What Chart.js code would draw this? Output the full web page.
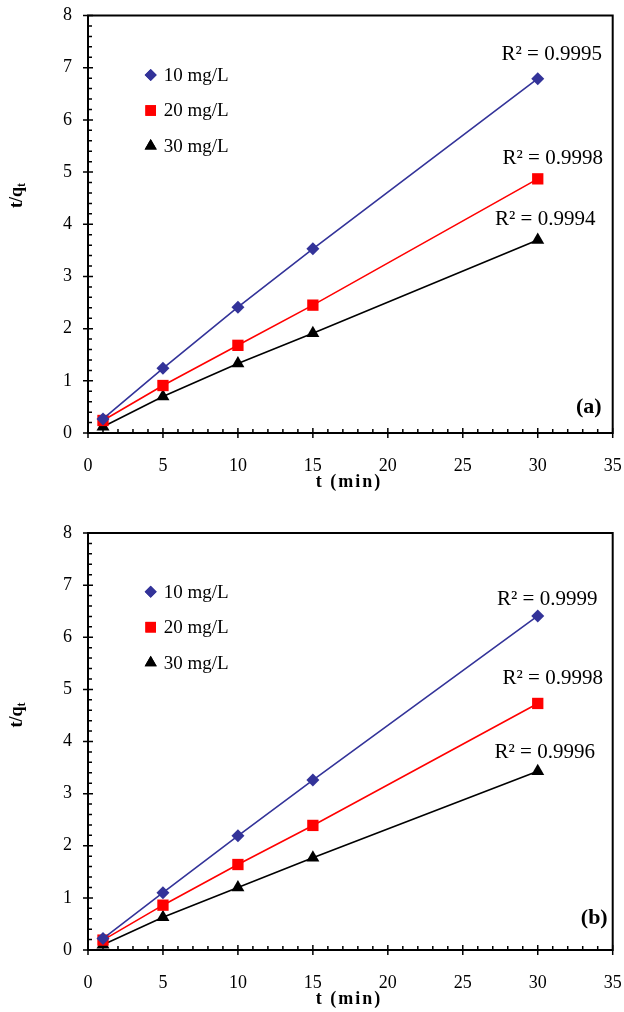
<!DOCTYPE html>
<html>
<head>
<meta charset="utf-8">
<script src="https://cdn.jsdelivr.net/npm/chart.js"></script>
<style>
  html, body { margin: 0; padding: 0; background: #fff; }
  .panel { position: absolute; left: 0; width: 624px; }
  #panelA { top: 0; height: 500px; }
  #panelB { top: 500px; height: 512px; }
</style>
</head>
<body>
<div class="panel" id="panelA"><canvas id="chartA"></canvas></div>
<div class="panel" id="panelB"><canvas id="chartB"></canvas></div>
<script>
// contact time (min)
const times = [1, 5, 10, 15, 30];
const seriesLabels = ["10 mg/L", "20 mg/L", "30 mg/L"];

// panel (a) t/qt
const a10 = [0.27, 1.24, 2.41, 3.53, 6.79];
const a20 = [0.24, 0.91, 1.68, 2.45, 4.87];
const a30 = [0.12, 0.70, 1.33, 1.91, 3.70];
const r2a = ["R² = 0.9995", "R² = 0.9998", "R² = 0.9994"];

// panel (b) t/qt
const b10 = [0.22, 1.10, 2.19, 3.26, 6.41];
const b20 = [0.19, 0.86, 1.64, 2.39, 4.73];
const b30 = [0.10, 0.63, 1.20, 1.77, 3.43];
const r2b = ["R² = 0.9999", "R² = 0.9998", "R² = 0.9996"];

const xTicks = [0, 5, 10, 15, 20, 25, 30, 35];
const yTicks = [0, 1, 2, 3, 4, 5, 6, 7, 8];

const SERIF = "'Liberation Serif', 'Times New Roman', serif";
const styles = [
    { color: "#333399", pointStyle: "rectRot", radius: 6.5 },
    { color: "#ff0000", pointStyle: "rect", radius: 8 },
    { color: "#000000", pointStyle: "triangle", radius: 7.5 },
];

function makeDatasets(values) {
    return values.map((vals, i) => ({
        label: seriesLabels[i],
        data: times.map((t, k) => ({ x: t, y: vals[k] })),
        showLine: true,
        borderColor: styles[i].color,
        backgroundColor: styles[i].color,
        borderWidth: 1.6,
        pointStyle: styles[i].pointStyle,
        pointRadius: styles[i].radius,
        pointBorderWidth: 0,
        pointHoverRadius: styles[i].radius,
        clip: false,
        tension: 0,
    }));
}

// frame, ticks, legend, titles and R² labels
const decorPlugin = {
    id: "decor",
    afterDraw(chart, args, opts) {
        const ctx = chart.ctx;
        const area = chart.chartArea;
        const xs = chart.scales.x;
        const ys = chart.scales.y;
        ctx.save();
        ctx.strokeStyle = "#000";
        ctx.lineWidth = 2;
        ctx.strokeRect(area.left, area.top, area.right - area.left, area.bottom - area.top);

        ctx.lineWidth = 1.5;
        ctx.beginPath();
        // x minor ticks (inward), major ticks (crossing)
        for (let v = 0; v <= 35; v++) {
            const px = xs.getPixelForValue(v);
            if (v % 5 === 0) {
                ctx.moveTo(px, area.bottom - 5);
                ctx.lineTo(px, area.bottom + 5);
            } else {
                ctx.moveTo(px, area.bottom);
                ctx.lineTo(px, area.bottom - 4);
            }
        }
        // y minor ticks every 0.2
        for (let k = 0; k <= 40; k++) {
            const py = ys.getPixelForValue(k * 0.2);
            if (k % 5 === 0) {
                ctx.moveTo(area.left - 5, py);
                ctx.lineTo(area.left + 5, py);
            } else {
                ctx.moveTo(area.left, py);
                ctx.lineTo(area.left + 4, py);
            }
        }
        ctx.stroke();

        // legend inside plot
        const drawPoint = Chart.helpers && Chart.helpers.drawPoint;
        chart.data.datasets.forEach((ds, i) => {
            const mx = area.left + 62.7;
            const my = area.top + opts.legendTop + i * 35.5;
            ctx.fillStyle = ds.backgroundColor;
            if (drawPoint) {
                drawPoint(ctx, { pointStyle: ds.pointStyle, radius: ds.pointRadius - 0.5, borderWidth: 0 }, mx, my);
                ctx.fill();
            }
            ctx.fillStyle = "#000";
            ctx.font = "19px " + SERIF;
            ctx.textAlign = "left";
            ctx.textBaseline = "middle";
            ctx.fillText(ds.label, mx + 13, my + 1);
        });

        // R² labels near the last point of each series
        ctx.font = "21px " + SERIF;
        ctx.textAlign = "center";
        ctx.textBaseline = "middle";
        ctx.fillStyle = "#000";
        chart.data.datasets.forEach((ds, i) => {
            const last = ds.data[ds.data.length - 1];
            const px = xs.getPixelForValue(last.x) + opts.r2Offsets[i][0];
            const py = ys.getPixelForValue(last.y) + opts.r2Offsets[i][1];
            ctx.fillText(opts.r2[i], px, py);
        });

        // panel label
        ctx.font = "bold 22px " + SERIF;
        ctx.textAlign = "right";
        ctx.fillText(opts.panel, area.right - opts.panelPos[0], area.bottom - opts.panelPos[1]);

        // x axis title
        ctx.font = "bold 18px " + SERIF;
        ctx.textAlign = "center";
        ctx.letterSpacing = "2px";
        ctx.fillText("t (min)", 349, area.bottom + 49);
        ctx.letterSpacing = "0px";

        // y axis title t/q_t
        ctx.translate(17, area.top + opts.yTitleOffset);
        ctx.rotate(-Math.PI / 2);
        ctx.font = "bold 18px " + SERIF;
        const main = "t/q";
        const wMain = ctx.measureText(main).width;
        ctx.font = "bold 12px " + SERIF;
        const wSub = ctx.measureText("t").width;
        const start = -(wMain + wSub) / 2;
        ctx.textAlign = "left";
        ctx.font = "bold 18px " + SERIF;
        ctx.fillText(main, start, 0);
        ctx.font = "bold 12px " + SERIF;
        ctx.fillText("t", start + wMain, 5);
        ctx.restore();
    },
};

function buildChart(canvasId, values, cfg) {
    return new Chart(document.getElementById(canvasId), {
        type: "scatter",
        data: { datasets: makeDatasets(values) },
        options: {
            responsive: true,
            maintainAspectRatio: false,
            animation: false,
            layout: { padding: { left: 0, right: 11.3, top: cfg.top, bottom: 0 } },
            scales: {
                x: {
                    type: "linear",
                    min: 0,
                    max: 35,
                    afterBuildTicks: (s) => { s.ticks = xTicks.map((v) => ({ value: v })); },
                    afterFit: (s) => {
                        s.height = cfg.xHeight;
                        s.paddingLeft = 0;
                        s.paddingRight = 0;
                    },
                    grid: { display: false, drawTicks: false },
                    border: { display: false },
                    ticks: { color: "#000", font: { family: SERIF, size: 18 }, padding: 22, maxRotation: 0 },
                },
                y: {
                    type: "linear",
                    min: 0,
                    max: 8,
                    afterBuildTicks: (s) => { s.ticks = yTicks.map((v) => ({ value: v })); },
                    afterFit: (s) => {
                        s.width = 88;
                        s.paddingTop = 0;
                        s.paddingBottom = 0;
                    },
                    grid: { display: false, drawTicks: false },
                    border: { display: false },
                    ticks: { color: "#000", font: { family: SERIF, size: 18 }, padding: 16 },
                },
            },
            plugins: {
                legend: { display: false },
                tooltip: { enabled: false },
                decor: cfg.decor,
            },
        },
        plugins: [decorPlugin],
    });
}

buildChart("chartA", [a10, a20, a30], {
    top: 15.5,
    xHeight: 67,
    decor: {
        r2: r2a,
        r2Offsets: [[14, -24], [15, -20], [7.5, -20]],
        panel: "(a)",
        panelPos: [11, 26],
        legendTop: 59.5,
        yTitleOffset: 180,
    },
});

buildChart("chartB", [b10, b20, b30], {
    top: 33,
    xHeight: 62,
    decor: {
        r2: r2b,
        r2Offsets: [[9.5, -16], [15, -24.5], [7, -19]],
        panel: "(b)",
        panelPos: [5, 32],
        legendTop: 58.7,
        yTitleOffset: 182,
    },
});
</script>
</body>
</html>
